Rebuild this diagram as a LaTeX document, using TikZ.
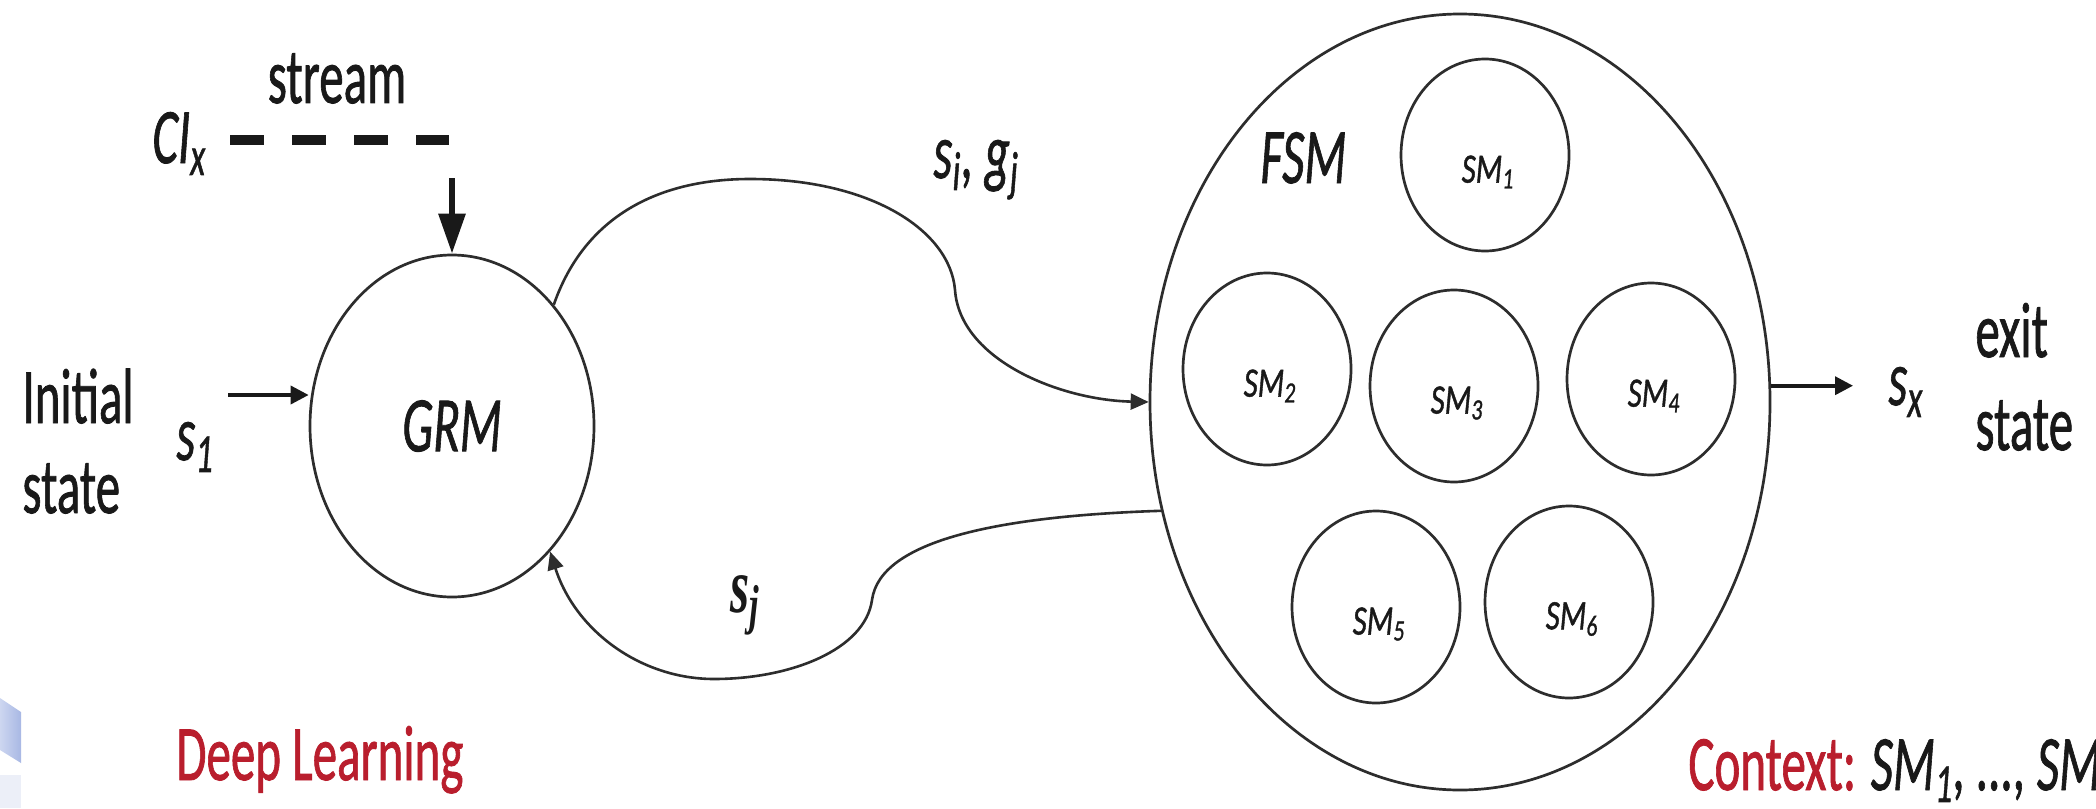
\documentclass[tikz,border=0pt]{standalone}
\usepackage{fontspec}
\setmainfont{Carlito}[FakeBold=1.2]
\newfontfamily\serifbi{Liberation Serif}
\usepackage{graphicx}
\usetikzlibrary{arrows.meta,shapes.geometric}

\definecolor{ink}{RGB}{25,25,25}
\definecolor{linegray}{RGB}{45,45,45}
\definecolor{dlred}{RGB}{185,30,45}
\definecolor{wmblueA}{RGB}{205,214,240}
\definecolor{wmblueB}{RGB}{168,184,228}
\definecolor{wmpale}{RGB}{236,239,248}

% text is set tall and narrow
\newcommand{\tall}[1]{\scalebox{1}[1.6]{#1}}
\newcommand{\tallsm}[1]{\scalebox{1}[1.35]{#1}}

\begin{document}
\begin{tikzpicture}[x=0.5pt, y=-0.5pt,
  lbl/.style={inner sep=0pt, anchor=base west, text=ink, font=\fontsize{24.5}{29}\selectfont},
  ital/.style={lbl, font=\fontsize{24.5}{29}\selectfont\itshape},
  state/.style={ellipse, draw=linegray, line width=1.35pt, inner sep=0pt},
  smstate/.style={state, minimum width=84pt, minimum height=96pt},
  smlbl/.style={inner sep=0pt, text=ink, font=\fontsize{15.5}{18}\selectfont\itshape},
  curve/.style={draw=linegray, line width=1.3pt},
  tip/.style={-{Triangle[length=9pt, width=8pt]}},
  arr/.style={draw=ink, line width=1.8pt, -{Triangle[length=9pt, width=9pt]}},
  bigarr/.style={draw=ink, line width=3pt, -{Triangle[length=20pt, width=13pt]}},
  dashline/.style={draw=ink, line width=5pt, dash pattern=on 16.75pt off 14.25pt}
]
\fill[white] (0,0) rectangle (2096,808);
\useasboundingbox (0,0) rectangle (2096,808);

% corner decoration at the left edge
\shade[left color=wmblueA, right color=wmblueB] (0,698) -- (21,712) -- (21,763) -- (0,750) -- cycle;
\fill[wmpale] (0,775) rectangle (21,808);

% main states
\node[state, minimum width=142pt, minimum height=171pt, text=ink,
      font=\fontsize{24.5}{29}\selectfont\itshape] (GRM) at (452,426) {\tall{GRM}};
\node[state, minimum width=310pt, minimum height=388pt] (FSM) at (1460,402) {};
\node[ital] (fsmlbl) at (1260,183) {\tall{FSM}};

% sub-machines inside the FSM
\foreach \n/\x/\y in {1/1485/155, 2/1267/369, 3/1454/386, 4/1651/379, 5/1376/607, 6/1569/602} {
  \node[smstate] (SM\n) at (\x,\y) {};
  \node[smlbl] (SMl\n) at ([xshift=1.5pt, yshift=-8.5pt]SM\n.center) {\tallsm{SM\textsubscript{\n}}};
}

% labels
\node[lbl] (init) at (22,423) {\tall{Initial}};
\node[lbl] (initb) at (22,513) {\tall{state}};
\node[ital] (s1) at (176,460) {\tall{s\textsubscript{1}}};
\node[ital] (CIx) at (152,163) {\tall{CI\textsubscript{x}}};
\node[lbl, anchor=base] (stream) at (337,103) {\tall{stream}};
\node[ital] (sigj) at (933,178) {\tall{s\textsubscript{i}, g\textsubscript{j}}};
\node[lbl] (sj) at (730,612) {\tall{\serifbi\bfseries\itshape s\textsubscript{j}}};
\node[ital] (sx) at (1888,405) {\tall{s\textsubscript{x}}};
\node[lbl] (exit) at (1975,357) {\tall{exit}};
\node[lbl] (exitb) at (1975,450) {\tall{state}};
\node[lbl, text=dlred] (dl) at (176,780) {\tall{Deep Learning}};
\node[lbl] (ctx) at (1688,790) {\tall{\textcolor{dlred}{Context:} \itshape SM\textsubscript{1}, ..., SM}};

% stream input
\coordinate (dashS) at (230,140);
\coordinate (dashE) at (449,140);
\draw[dashline] (dashS) -- (dashE);
\coordinate (dn) at (452,178);
\draw[bigarr] (dn) -- (GRM.north);

% initial state into GRM
\coordinate (s1a) at (228,395);
\draw[arr] (s1a) -- (s1a -| GRM.west);

% GRM -> FSM
\draw[curve, tip] (GRM.50) .. controls (585,215) and (660,179) .. (750,179)
  .. controls (870,179) and (950,230) .. (955,290)
  .. controls (960,360) and (1060,400) .. (FSM.west);

% FSM -> GRM
\draw[curve, tip] (FSM.200) .. controls (1000,516) and (880,540) .. (872,600)
  .. controls (865,650) and (790,679) .. (714,679)
  .. controls (640,679) and (575,630) .. (GRM.-52);

% exit
\coordinate (exitpt) at (1853,386);
\draw[arr] (FSM.3) -- (FSM.3 -| exitpt);
\end{tikzpicture}
\end{document}
